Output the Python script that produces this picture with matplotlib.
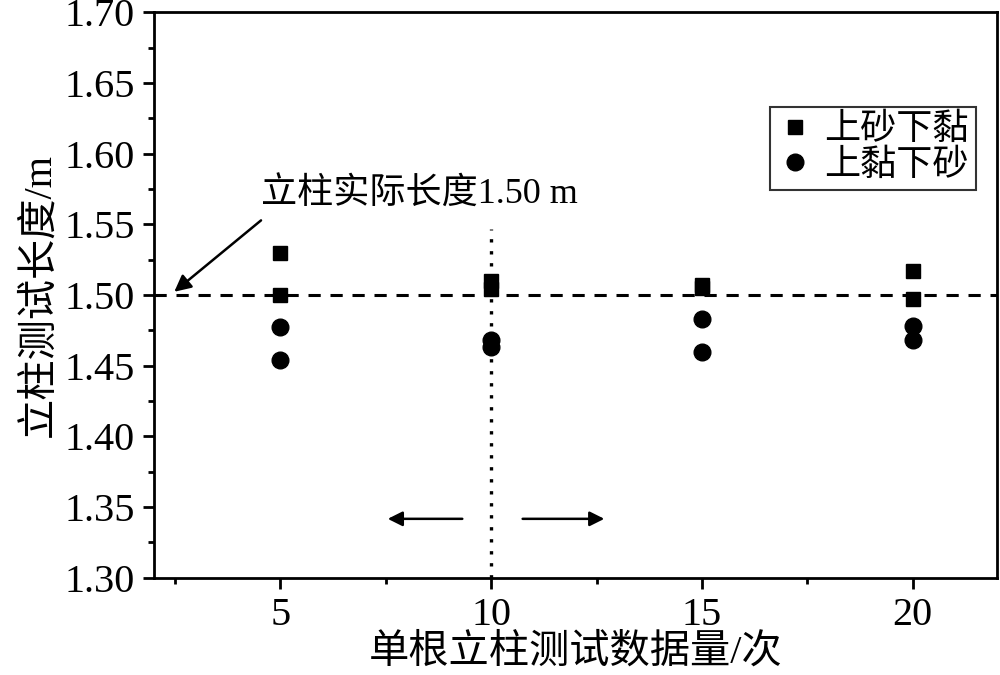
import matplotlib
matplotlib.use("Agg")
import matplotlib.pyplot as plt
from matplotlib.ticker import MultipleLocator

plt.rcParams['font.family'] = ['Liberation Serif', 'Noto Sans CJK SC']

# data
counts = [5, 5, 10, 10, 15, 15, 20, 20]
sand_over_clay = [1.530, 1.500, 1.510, 1.504, 1.507, 1.505, 1.517, 1.497]
clay_over_sand = [1.477, 1.454, 1.468, 1.463, 1.483, 1.460, 1.478, 1.468]
labels = ['上砂下黏', '上黏下砂']
true_len = 1.50

fig = plt.figure(figsize=(10, 6.75), dpi=100)
ax = fig.add_axes([0.154, 0.144, 0.843, 0.838])

ax.plot(counts, sand_over_clay, 's', color='black', markersize=10.5, label=labels[0])
ax.plot(counts, clay_over_sand, 'o', color='black', markersize=12, label=labels[1])

ax.axhline(true_len, color='black', linestyle=(0, (4, 3.2)), linewidth=2.2)
ax.plot([10, 10], [1.30, 1.547], color='black', linestyle=(0, (1, 2.6)), linewidth=2.4)

ax.annotate('', xy=(2.43, 1.501), xytext=(4.59, 1.554),
            arrowprops=dict(arrowstyle='-|>', color='black', lw=1.8, mutation_scale=25))
ax.text(4.55, 1.571, '立柱实际长度1.50 m', fontsize=26, va='center', ha='left')
ax.annotate('', xy=(7.48, 1.3417), xytext=(9.38, 1.3417),
            arrowprops=dict(arrowstyle='-|>', color='black', lw=1.8, mutation_scale=22))
ax.annotate('', xy=(12.75, 1.3417), xytext=(10.68, 1.3417),
            arrowprops=dict(arrowstyle='-|>', color='black', lw=1.8, mutation_scale=22))

ax.set_xlim(2, 22)
ax.set_ylim(1.30, 1.70)
ax.set_xticks([5, 10, 15, 20])
ax.xaxis.set_minor_locator(MultipleLocator(2.5))
ax.set_yticks([1.30, 1.35, 1.40, 1.45, 1.50, 1.55, 1.60, 1.65, 1.70])
ax.yaxis.set_minor_locator(MultipleLocator(0.025))
ax.tick_params(which='major', direction='out', length=8, width=2, labelsize=29, pad=6)
ax.tick_params(which='minor', direction='out', length=4, width=2)
for s in ax.spines.values():
    s.set_linewidth(2)

ax.set_xlabel('单根立柱测试数据量/次', fontsize=29, labelpad=0)
ax.set_ylabel('立柱测试长度/m', fontsize=29, labelpad=4)

leg = ax.legend(loc='upper right', bbox_to_anchor=(0.975, 0.833), fontsize=26,
                frameon=True, fancybox=False, edgecolor='black', handletextpad=0.3,
                borderpad=0.2, labelspacing=0.05, handlelength=1.0, borderaxespad=0)
leg.get_frame().set_linewidth(1.5)

plt.savefig('out.png', dpi=100)
plt.close()
